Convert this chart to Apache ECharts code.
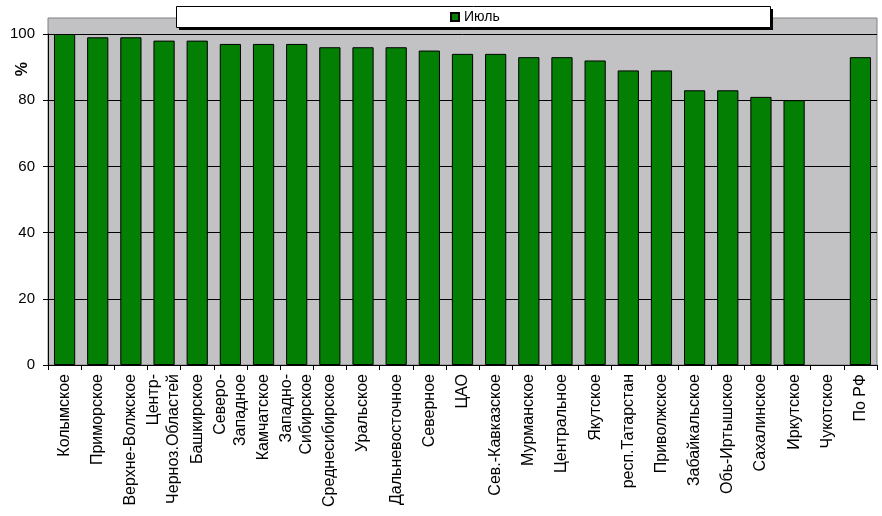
<!DOCTYPE html>
<html>
<head>
<meta charset="utf-8">
<script src="https://cdn.jsdelivr.net/npm/echarts@6/dist/echarts.min.js"></script>
<style>html,body{margin:0;padding:0;background:#fff;}#c{width:882px;height:516px;}</style>
</head>
<body>
<div id="c"></div>
<script>
var categories = ['Колымское','Приморское','Верхне-Волжское','Центр-\nЧерноз.Областей','Башкирское','Северо-\nЗападное','Камчатское','Западно-\nСибирское','Среднесибирское','Уральское','Дальневосточное','Северное','ЦАО','Сев.-Кавказское','Мурманское','Центральное','Якутское','респ.Татарстан','Приволжское','Забайкальское','Обь-Иртышское','Сахалинское','Иркутское','Чукотское','По РФ'];
var july = [100,99,99,98,98,97,97,97,96,96,96,95,94,94,93,93,92,89,89,83,83,81,80,null,93];
var yTicks = [0,20,40,60,80,100];
var seriesName = 'Июль';

var chart = echarts.init(document.getElementById('c'), null, {renderer:'canvas'});
var font = 'Liberation Sans, Arial, sans-serif';
chart.setOption({
  animation:false,
  backgroundColor:'#ffffff',
  textStyle:{fontFamily:font},
  graphic:[
    {type:'rect', z:5, shape:{x:179,y:9,width:594,height:21}, style:{fill:'#000'}},
    {type:'rect', z:6, shape:{x:176.5,y:6.5,width:594,height:21}, style:{fill:'#fff',stroke:'#000',lineWidth:1}},
    {type:'text', z:6, left:15, top:62, rotation:Math.PI/2, style:{text:'%', font:'bold 16px '+font, fill:'#000'}}
  ],
  legend:{
    z:10, left:450, top:10, itemWidth:8, itemHeight:8, itemGap:5, icon:'rect',
    data:[seriesName],
    textStyle:{fontSize:14, color:'#000', fontFamily:font}, padding:0
  },
  grid:[
    {left:48, right:5, top:34, bottom:151, show:false},
    {left:48, right:5, top:18, bottom:151, show:true, backgroundColor:'#c2c1c4', borderColor:'#808080', borderWidth:1}
  ],
  xAxis:[
    {type:'category', gridIndex:0, data:categories,
     axisLine:{lineStyle:{color:'#000',width:1}},
     axisTick:{show:true, length:5, lineStyle:{color:'#000'}},
     axisLabel:{interval:0, rotate:90, fontSize:16, color:'#000', margin:9, lineHeight:20, fontFamily:font}},
    {type:'category', gridIndex:1, data:categories, show:false}
  ],
  yAxis:[
    {type:'value', gridIndex:0, min:0, max:100, interval:20,
     axisLine:{show:true, lineStyle:{color:'#000'}},
     axisTick:{show:true, length:5, lineStyle:{color:'#000'}},
     axisLabel:{fontSize:15, color:'#000', margin:13, fontFamily:font,
       formatter:function(v){return yTicks.indexOf(v)>=0 ? String(v) : '';}},
     splitLine:{show:true, lineStyle:{color:'#000', width:1}}},
    {type:'value', gridIndex:1, min:0, max:105, show:false, splitLine:{show:false}}
  ],
  series:[{
    name:seriesName, type:'bar', xAxisIndex:0, yAxisIndex:0,
    data:july, barCategoryGap:'36%',
    itemStyle:{color:'#037f03', borderColor:'#000', borderWidth:1}
  }]
});
</script>
</body>
</html>
